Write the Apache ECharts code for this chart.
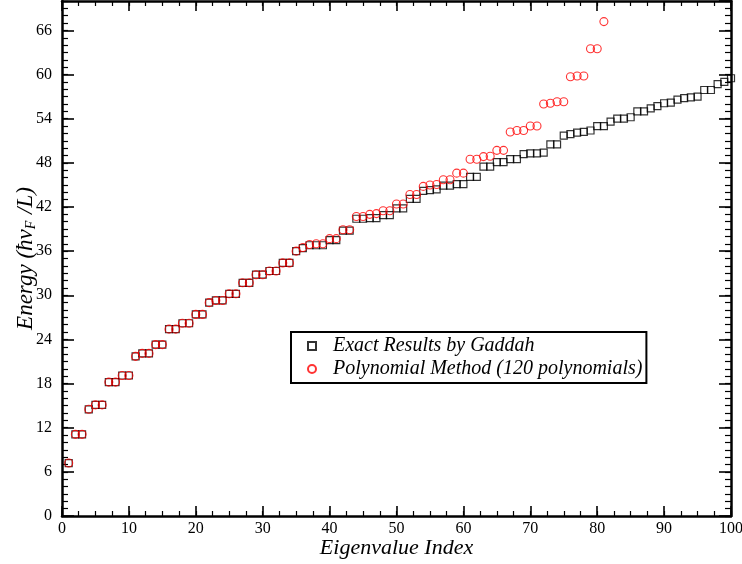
<!DOCTYPE html>
<html>
<head>
<meta charset="utf-8">
<script src="https://cdn.jsdelivr.net/npm/echarts@6/dist/echarts.min.js"></script>
<style>
  html, body { margin: 0; padding: 0; background: #fff; }
  #chart { width: 742px; height: 564px; }
</style>
</head>
<body>
<div id="chart"></div>
<script>
// Eigenvalue energies (units of ħv_F/L), listed by eigenvalue index starting at 1
const exactEnergies = [
  7.2, 11.1, 11.1, 14.5, 15.1, 15.1, 18.2, 18.2, 19.1, 19.1,
  21.7, 22.1, 22.1, 23.3, 23.3, 25.4, 25.4, 26.2, 26.2, 27.4,
  27.4, 29.0, 29.3, 29.3, 30.2, 30.2, 31.7, 31.7, 32.8, 32.8,
  33.3, 33.3, 34.4, 34.4, 36.0, 36.4, 36.8, 36.8, 36.8, 37.5,
  37.5, 38.8, 38.8, 40.4, 40.4, 40.5, 40.5, 40.9, 40.9, 41.8,
  41.8, 43.1, 43.1, 44.2, 44.3, 44.4, 44.9, 44.9, 45.1, 45.1,
  46.1, 46.1, 47.5, 47.5, 48.1, 48.1, 48.5, 48.5, 49.2, 49.3,
  49.3, 49.4, 50.5, 50.5, 51.7, 51.9, 52.1, 52.2, 52.4, 53.0,
  53.0, 53.6, 54.0, 54.0, 54.2, 55.0, 55.0, 55.4, 55.7, 56.1,
  56.2, 56.6, 56.8, 56.9, 57.0, 57.9, 57.9, 58.7, 59.0, 59.5
];

const polynomialEnergies = [
  7.2, 11.1, 11.1, 14.5, 15.1, 15.1, 18.2, 18.2, 19.1, 19.1,
  21.7, 22.1, 22.1, 23.3, 23.3, 25.4, 25.4, 26.2, 26.2, 27.4,
  27.4, 29.0, 29.3, 29.3, 30.2, 30.2, 31.7, 31.7, 32.8, 32.8,
  33.3, 33.3, 34.4, 34.4, 36.0, 36.5, 36.9, 37.0, 37.0, 37.7,
  37.7, 38.9, 38.9, 40.7, 40.7, 41.0, 41.1, 41.5, 41.5, 42.4,
  42.4, 43.7, 43.7, 44.8, 45.0, 45.05, 45.7, 45.7, 46.6, 46.6,
  48.5, 48.5, 48.85, 48.9, 49.7, 49.7, 52.2, 52.4, 52.4, 53.0,
  53.0, 56.0, 56.1, 56.3, 56.3, 59.7, 59.8, 59.8, 63.5, 63.5,
  67.2
];

const seriesNames = ['Exact Results by Gaddah', 'Polynomial Method (120 polynomials)'];
const xTickValues = [0, 10, 20, 30, 40, 50, 60, 70, 80, 90, 100];
const yTickValues = [0, 6, 12, 18, 24, 30, 36, 42, 48, 54, 60, 66];

const SERIF = '"Liberation Serif", "DejaVu Serif", serif';
const X_MAX = xTickValues[xTickValues.length - 1];
const Y_MAX = 70;

const toPoints = arr => arr.map((v, i) => [i + 1, v]);

// Major tick axis (with or without labels/line) and a companion minor-tick axis
function majorAxis(kind, position, withLabels) {
  const isX = kind === 'x';
  const step = isX ? xTickValues[1] - xTickValues[0] : yTickValues[1] - yTickValues[0];
  return {
    type: 'value',
    position: position,
    min: 0,
    max: isX ? X_MAX : Y_MAX,
    interval: step,
    axisLine: { show: true, onZero: false, lineStyle: { color: '#000', width: 2.5 } },
    axisTick: { show: true, inside: true, length: isX ? 10 : 12, lineStyle: { color: '#000', width: 1.6 } },
    axisLabel: {
      show: withLabels,
      showMaxLabel: isX,
      color: '#000',
      fontFamily: SERIF,
      fontSize: 16,
      margin: isX ? 5 : 10
    },
    splitLine: { show: false }
  };
}

function minorAxis(kind, position) {
  const isX = kind === 'x';
  return {
    type: 'value',
    position: position,
    min: 0,
    max: isX ? X_MAX : Y_MAX,
    interval: isX ? 2.5 : 1,
    axisLine: { show: false, onZero: false },
    axisTick: { show: true, inside: true, length: isX ? 5 : 6, lineStyle: { color: '#000', width: 1.2 } },
    axisLabel: { show: false },
    splitLine: { show: false }
  };
}

const xBottom = majorAxis('x', 'bottom', true);
xBottom.name = 'Eigenvalue Index';
xBottom.nameLocation = 'middle';
xBottom.nameGap = 21;
xBottom.nameMoveOverlap = false;
xBottom.nameTextStyle = {
  color: '#000', fontFamily: SERIF, fontStyle: 'italic', fontSize: 22
};

const yLeft = majorAxis('y', 'left', true);
yLeft.name = '{a|Energy (ħv}{b|F}{a| /L)}';
yLeft.nameLocation = 'middle';
yLeft.nameGap = 24;
yLeft.nameMoveOverlap = false;
yLeft.nameTextStyle = {
  color: '#000',
  rich: {
    a: { fontFamily: SERIF, fontStyle: 'italic', fontSize: 23, color: '#000' },
    b: { fontFamily: SERIF, fontStyle: 'italic', fontSize: 14, color: '#000', padding: [11, 1, 0, 0] }
  }
};

const option = {
  backgroundColor: '#fff',
  animation: false,
  grid: { left: 62, top: 1, width: 669, height: 515, containLabel: false, outerBoundsMode: 'none' },
  legend: {
    orient: 'vertical',
    left: 291,
    top: 332,
    data: seriesNames,
    borderColor: '#000',
    borderWidth: 2,
    padding: [4, 4, 4, 16],
    itemGap: 3,
    itemWidth: 8,
    itemHeight: 8,
    textStyle: {
      color: '#000', fontFamily: SERIF, fontStyle: 'italic', fontSize: 20,
      padding: [0, 0, 0, 12]
    }
  },
  xAxis: [xBottom, minorAxis('x', 'bottom'), majorAxis('x', 'top', false), minorAxis('x', 'top')],
  yAxis: [yLeft, minorAxis('y', 'left'), majorAxis('y', 'right', false), minorAxis('y', 'right')],
  series: [
    {
      name: seriesNames[0],
      type: 'scatter',
      symbol: 'rect',
      symbolSize: 7,
      itemStyle: { color: 'rgba(0,0,0,0)', borderColor: '#000', borderWidth: 1.2 },
      data: toPoints(exactEnergies),
      z: 2
    },
    {
      name: seriesNames[1],
      type: 'scatter',
      symbol: 'circle',
      symbolSize: 8,
      itemStyle: { color: 'rgba(0,0,0,0)', borderColor: '#ff0000', borderWidth: 1.1 },
      data: toPoints(polynomialEnergies),
      z: 3
    }
  ]
};

const chart = echarts.init(document.getElementById('chart'), null, { renderer: 'canvas' });
chart.setOption(option);
</script>
</body>
</html>
